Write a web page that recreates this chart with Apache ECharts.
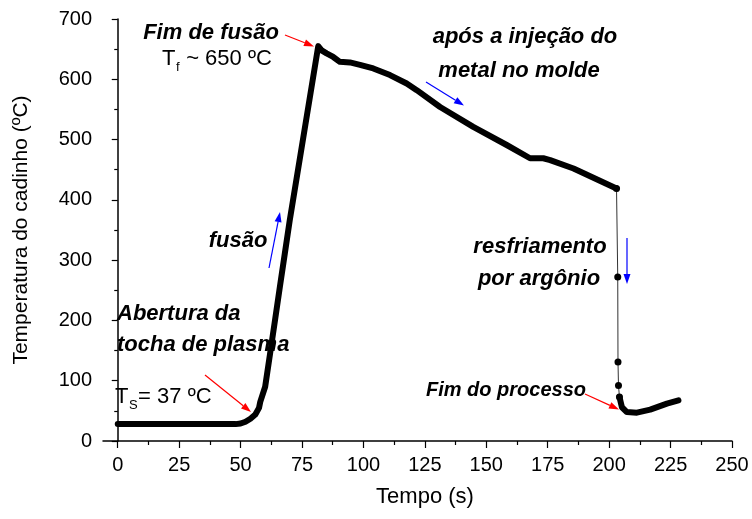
<!DOCTYPE html>
<html>
<head>
<meta charset="utf-8">
<script src="https://cdn.jsdelivr.net/npm/echarts@6/dist/echarts.min.js"></script>
<style>
  html, body { margin: 0; padding: 0; background: #fff; }
  #chart { width: 752px; height: 519px; }
</style>
</head>
<body>
<div id="chart"></div>
<script>
// Axis tick values
const xTicks = [0, 25, 50, 75, 100, 125, 150, 175, 200, 225, 250];
const xMinorTicks = [12.5, 37.5, 62.5, 87.5, 112.5, 137.5, 162.5, 187.5, 212.5, 237.5];

// Crucible temperature: heating, melting and cooling after injection
const meltTime = [0, 10, 20, 30, 40, 48, 50, 52, 54, 56, 57.5, 58, 60, 62, 64, 66, 68, 70, 81.6,
  83, 85, 87.7, 90.4, 94.5, 98.6, 104, 110.8, 117.6, 121.7, 131.2, 144.7, 158.3, 167.8, 173.2, 176, 185.5, 203];
const meltTemp = [28, 28, 28, 28, 28, 28, 29, 32, 37, 44, 55, 65, 90, 145, 200, 256, 311, 366, 655,
  648, 643, 637, 629, 628, 624, 618, 607, 593, 582, 554, 521, 491, 469, 469, 466, 452, 419];

// Argon quench: sparse readings during the fast drop
const quenchTime = [203, 203.5, 203.6, 203.8, 204.2];
const quenchTemp = [419, 272, 131, 92, 73];

// End of process
const endTime = [204.2, 205.2, 207.2, 211.3, 216.7, 223.5, 228.2];
const endTemp = [73, 56, 48, 47, 52, 62, 67.5];

const zip = (a, b) => a.map((v, i) => [v, b[i]]);

const FONT = '"Liberation Sans", Arial, sans-serif';
const chart = echarts.init(document.getElementById('chart'), null, { renderer: 'canvas' });

const mctx = document.createElement('canvas').getContext('2d');
function textWidth(t, font) { mctx.font = font; return mctx.measureText(t).width; }

// Text with a subscript: base + sub + rest, left edge x, cap centre y
function subText(x, y, base, sub, rest, size) {
  const f = size + 'px ' + FONT;
  const fs = Math.round(size * 0.6) + 'px ' + FONT;
  const w1 = textWidth(base, f);
  const w2 = textWidth(sub, fs);
  const common = { fill: '#000', verticalAlign: 'middle', align: 'left' };
  return [
    { type: 'text', x: x, y: y, style: Object.assign({ text: base, font: f }, common) },
    { type: 'text', x: x + w1 + 0.5, y: y + size * 0.38, style: Object.assign({ text: sub, font: fs }, common) },
    { type: 'text', x: x + w1 + w2 + 1, y: y, style: Object.assign({ text: rest, font: f }, common) }
  ];
}

function note(text, x, y, align, size) {
  return {
    type: 'text', x: x, y: y,
    style: { text: text, font: 'italic bold ' + (size || 22) + 'px ' + FONT, fill: '#000', align: align || 'center', verticalAlign: 'middle' }
  };
}

function arrow(x1, y1, x2, y2, color) {
  const ang = Math.atan2(y2 - y1, x2 - x1);
  const L = 10, W = 3.5;
  const bx = x2 - L * Math.cos(ang), by = y2 - L * Math.sin(ang);
  const px = -Math.sin(ang) * W, py = Math.cos(ang) * W;
  return [
    { type: 'line', shape: { x1: x1, y1: y1, x2: bx, y2: by }, style: { stroke: color, lineWidth: 1.2 } },
    { type: 'polygon', shape: { points: [[x2, y2], [bx + px, by + py], [bx - px, by - py]] }, style: { fill: color } }
  ];
}

const graphics = [].concat(
  [note('Fim de fusão', 211, 33)],
  subText(162, 59, 'T', 'f', ' ~ 650 ºC', 22),
  arrow(285, 35, 314, 46.5, '#ff0000'),
  [note('após a injeção do', 525, 37), note('metal no molde', 519, 70.5)],
  arrow(426, 82, 464, 105.5, '#0000ff'),
  [note('fusão', 238, 240.5)],
  arrow(269, 268, 280, 212, '#0000ff'),
  [note('Abertura da', 117, 314, 'left'), note('tocha de plasma', 117, 345, 'left')],
  subText(115, 397, 'T', 'S', '= 37 ºC', 22),
  arrow(205, 375, 251, 412, '#ff0000'),
  [note('resfriamento', 540, 247), note('por argônio', 539, 279)],
  arrow(627, 238, 627, 284, '#0000ff'),
  [note('Fim do processo', 506, 390, 'center', 20)],
  arrow(585, 394, 619, 409.5, '#ff0000')
);

const axisText = { color: '#000', fontFamily: FONT, fontSize: 20 };

chart.setOption({
  animation: false,
  backgroundColor: '#fff',
  grid: { left: 103, right: 20, top: 19, bottom: 78, containLabel: false },
  xAxis: [
    {
      type: 'value', min: -6, max: 250, position: 'bottom',
      name: 'Tempo (s)', nameLocation: 'middle', nameGap: 45,
      nameTextStyle: { color: '#000', fontFamily: FONT, fontSize: 22, padding: [0, 0, 0, 15] },
      axisLine: { show: true, onZero: false, lineStyle: { color: '#000', width: 1.5 } },
      axisTick: { show: true, customValues: xTicks, length: 7, lineStyle: { color: '#000', width: 1.2 } },
      axisLabel: Object.assign({ customValues: xTicks, margin: 14 }, axisText),
      splitLine: { show: false }
    },
    {
      type: 'value', min: -6, max: 250, position: 'bottom',
      axisLine: { show: false },
      axisTick: { show: true, customValues: xMinorTicks, length: 4, lineStyle: { color: '#000', width: 1.2 } },
      axisLabel: { show: false },
      splitLine: { show: false }
    }
  ],
  yAxis: {
    type: 'value', min: 0, max: 700, interval: 100,
    name: 'Temperatura do cadinho (ºC)', nameLocation: 'middle', nameGap: 71,
    nameTextStyle: { color: '#000', fontFamily: FONT, fontSize: 21 },
    axisLine: { show: true, lineStyle: { color: '#000', width: 1.5 } },
    axisTick: { show: true, length: 6, lineStyle: { color: '#000', width: 1.2 } },
    minorTick: { show: true, splitNumber: 2, length: 3.5, lineStyle: { color: '#000', width: 1.2 } },
    axisLabel: Object.assign({ margin: 11 }, axisText),
    splitLine: { show: false }
  },
  series: [
    {
      type: 'line', data: zip(meltTime, meltTemp), showSymbol: false, symbol: 'none',
      lineStyle: { color: '#000', width: 6, cap: 'round', join: 'round' }, z: 3
    },
    {
      type: 'line', data: zip(quenchTime, quenchTemp), symbol: 'circle', symbolSize: 7, showSymbol: true,
      itemStyle: { color: '#000' },
      lineStyle: { color: '#333', width: 1 }, z: 2
    },
    {
      type: 'line', data: zip(endTime, endTemp), showSymbol: false, symbol: 'none',
      lineStyle: { color: '#000', width: 6, cap: 'round', join: 'round' }, z: 3
    }
  ],
  graphic: graphics
});
</script>
</body>
</html>
